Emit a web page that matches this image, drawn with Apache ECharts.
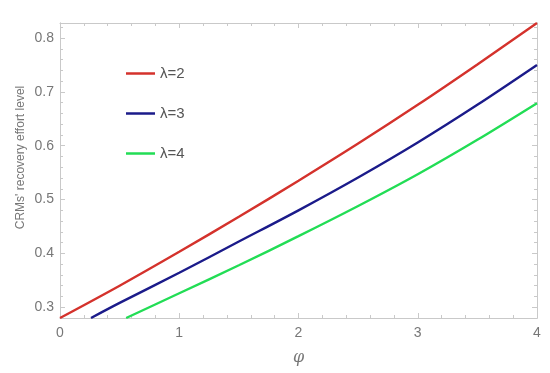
<!DOCTYPE html>
<html>
<head>
<meta charset="utf-8">
<script src="https://cdn.jsdelivr.net/npm/echarts@6/dist/echarts.min.js"></script>
<style>
  html, body { margin: 0; padding: 0; background: #fff; }
  #chart { width: 550px; height: 373px; }
</style>
</head>
<body>
<div id="chart"></div>
<script>
// values
var seriesNames = ['λ=2', 'λ=3', 'λ=4']
var phiRed = [0, 0.5, 1, 1.5, 2, 2.5, 3, 3.5, 4]
var red = [0.280, 0.340, 0.403, 0.468, 0.535, 0.604, 0.676, 0.751, 0.828]
var phiBlue = [0.26, 0.5, 1, 1.5, 2, 2.5, 3, 3.5, 4]
var blue = [0.280, 0.308, 0.364, 0.422, 0.480, 0.541, 0.606, 0.676, 0.750]
var phiGreen = [0.555, 1, 1.5, 2, 2.5, 3, 3.5, 4]
var green = [0.280, 0.326, 0.378, 0.432, 0.488, 0.547, 0.611, 0.679]

var yMajor = [0.3, 0.4, 0.5, 0.6, 0.7, 0.8]
var yMinor = [0.32, 0.34, 0.36, 0.38, 0.42, 0.44, 0.46, 0.48, 0.52, 0.54, 0.56, 0.58,
  0.62, 0.64, 0.66, 0.68, 0.72, 0.74, 0.76, 0.78, 0.82]

var colors = ['#d4322c', '#1b1b8a', '#22dd55']
var frameColor = '#c9c9c9'
var textColor = '#777'

function pairs (xs, ys) {
  return xs.map(function (x, i) { return [x, ys[i]] })
}

var myChart = echarts.init(document.getElementById('chart'))

function xAx (pos, labels) {
  return {
    type: 'value',
    position: pos,
    min: 0,
    max: 4,
    interval: 1,
    name: labels ? 'φ' : '',
    nameLocation: 'middle',
    nameGap: 32,
    nameTextStyle: { color: textColor, fontSize: 16, fontStyle: 'italic', fontFamily: 'DejaVu Serif' },
    axisLine: { show: true, lineStyle: { color: frameColor, width: 1 } },
    axisTick: { show: true, inside: true, length: 5, lineStyle: { color: frameColor } },
    minorTick: { show: true, splitNumber: 5, length: 3, lineStyle: { color: frameColor } },
    axisLabel: { show: labels, color: textColor, fontSize: 14, margin: 8, fontFamily: 'Liberation Sans' },
    splitLine: { show: false }
  }
}

function yAx (pos, ticks, len, labels) {
  return {
    type: 'value',
    position: pos,
    min: 0.28,
    max: 0.828,
    name: labels ? "CRMs' recovery effort level" : '',
    nameLocation: 'middle',
    nameGap: 33,
    nameMoveOverlap: false,
    nameTextStyle: { color: textColor, fontSize: 12, fontFamily: 'Liberation Sans', padding: [0, 0, 0, 26] },
    axisLine: { show: true, onZero: false, lineStyle: { color: frameColor, width: 1 } },
    axisTick: { show: true, inside: true, length: len, customValues: ticks, lineStyle: { color: frameColor } },
    axisLabel: { show: labels, customValues: ticks, color: textColor, fontSize: 14, margin: 6, fontFamily: 'Liberation Sans' },
    splitLine: { show: false }
  }
}

var option = {
  color: colors,
  animation: false,
  grid: { left: 60, right: 13, top: 23, bottom: 55 },
  legend: {
    data: seriesNames,
    orient: 'vertical',
    left: 121,
    top: 61,
    icon: 'rect',
    itemWidth: 29,
    itemHeight: 2.5,
    itemGap: 25,
    textStyle: { color: '#555', fontSize: 15, fontFamily: 'Liberation Sans' }
  },
  xAxis: [xAx('bottom', true), xAx('top', false)],
  yAxis: [
    yAx('left', yMajor, 5, true),
    yAx('left', yMinor, 3, false),
    yAx('right', yMajor, 5, false),
    yAx('right', yMinor, 3, false)
  ],
  series: [
    { name: seriesNames[0], type: 'line', data: pairs(phiRed, red) },
    { name: seriesNames[1], type: 'line', data: pairs(phiBlue, blue) },
    { name: seriesNames[2], type: 'line', data: pairs(phiGreen, green) }
  ].map(function (s) {
    s.symbol = 'none'
    s.smooth = 0.3
    s.lineStyle = { width: 2.4 }
    return s
  })
}

myChart.setOption(option)
</script>
</body>
</html>
